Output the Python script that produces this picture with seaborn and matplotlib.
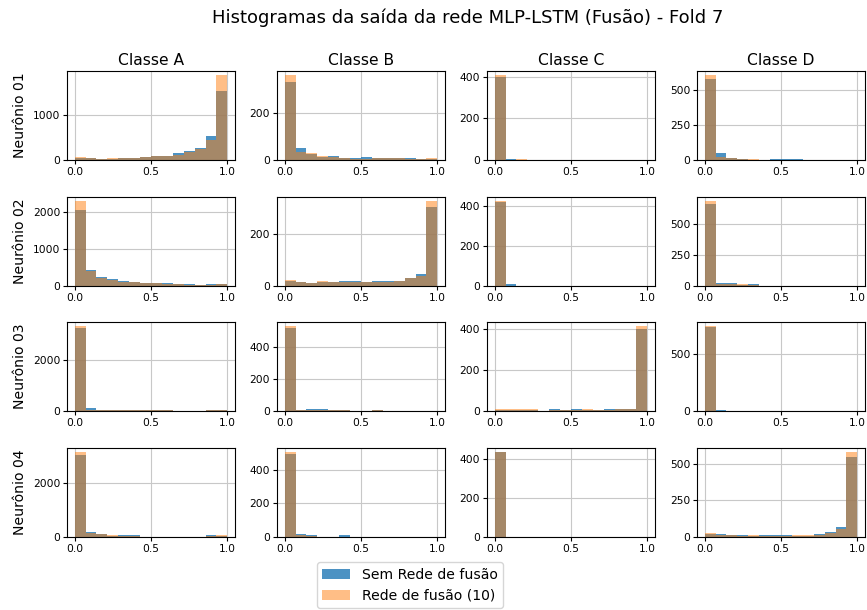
import numpy as np
import pandas as pd
import matplotlib
matplotlib.use("Agg")
import matplotlib.pyplot as plt
from matplotlib.patches import Patch
from matplotlib.ticker import MultipleLocator
import seaborn as sns

# Histogram bins shared by every panel (14 bins on [0, 1])
n_bins = 14
bin_range = (0.0, 1.0)

classes = ["Classe A", "Classe B", "Classe C", "Classe D"]
neurons = ["Neurônio 01", "Neurônio 02", "Neurônio 03", "Neurônio 04"]
series_labels = ["Sem Rede de fusão", "Rede de fusão (10)"]

# Counts per bin, one list per class (A, B, C, D), for each neuron
sem_fusao_n01 = [
    [45, 40, 25, 30, 50, 50, 70, 100, 100, 165, 195, 265, 530, 1540],
    [333, 51, 24, 14, 17, 10, 9, 13, 7, 7, 7, 7, 4, 6],
    [400, 6, 0, 0, 0, 0, 0, 0, 0, 0, 0, 0, 0, 0],
    [582, 53, 17, 5, 1, 0, 5, 5, 5, 0, 0, 0, 0, 0],
]
com_fusao_n01 = [
    [70, 35, 30, 35, 45, 55, 60, 85, 95, 120, 175, 240, 455, 1895],
    [360, 33, 31, 17, 11, 9, 6, 6, 7, 10, 9, 6, 6, 10],
    [408, 2, 3, 0, 0, 0, 0, 0, 0, 0, 0, 0, 0, 0],
    [608, 20, 18, 10, 5, 0, 0, 0, 0, 0, 0, 0, 0, 0],
]
sem_fusao_n02 = [
    [2063, 413, 233, 180, 135, 108, 81, 72, 60, 35, 30, 28, 30, 35],
    [17, 14, 10, 13, 14, 18, 18, 15, 18, 18, 19, 28, 44, 303],
    [422, 6, 0, 0, 0, 0, 0, 0, 0, 0, 0, 0, 0, 0],
    [664, 24, 19, 8, 11, 0, 0, 0, 0, 0, 0, 0, 0, 0],
]
com_fusao_n02 = [
    [2305, 385, 197, 152, 108, 90, 72, 63, 45, 30, 28, 25, 28, 30],
    [22, 12, 9, 17, 14, 14, 13, 12, 15, 15, 18, 28, 38, 327],
    [427, 0, 0, 0, 0, 0, 0, 0, 0, 0, 0, 0, 0, 0],
    [688, 16, 11, 11, 5, 0, 0, 0, 0, 0, 0, 0, 0, 0],
]
sem_fusao_n03 = [
    [3256, 110, 45, 40, 55, 45, 35, 50, 30, 20, 5, 5, 45, 40],
    [523, 10, 12, 12, 6, 6, 0, 0, 6, 0, 0, 0, 0, 0],
    [5, 5, 5, 5, 0, 8, 7, 8, 4, 6, 11, 12, 12, 400],
    [733, 14, 0, 0, 0, 0, 0, 0, 0, 0, 0, 0, 0, 0],
]
com_fusao_n03 = [
    [3333, 60, 55, 45, 40, 45, 50, 35, 45, 15, 5, 5, 55, 50],
    [533, 10, 8, 8, 10, 10, 0, 0, 10, 0, 0, 0, 0, 0],
    [8, 8, 8, 8, 0, 5, 6, 4, 8, 7, 6, 8, 8, 411],
    [739, 3, 0, 0, 0, 0, 0, 0, 0, 0, 0, 0, 0, 0],
]
sem_fusao_n04 = [
    [3006, 158, 109, 36, 60, 60, 0, 0, 0, 0, 0, 0, 60, 36],
    [497, 16, 10, 0, 0, 10, 0, 0, 0, 0, 0, 0, 0, 0],
    [437, 0, 0, 0, 0, 0, 0, 0, 0, 0, 0, 0, 0, 0],
    [16, 18, 9, 9, 7, 9, 9, 9, 7, 7, 18, 29, 66, 548],
]
com_fusao_n04 = [
    [3140, 121, 85, 60, 36, 36, 0, 0, 0, 0, 0, 0, 36, 60],
    [511, 10, 4, 0, 0, 0, 0, 0, 0, 0, 0, 0, 0, 0],
    [436, 0, 0, 0, 0, 0, 0, 0, 0, 0, 0, 0, 0, 0],
    [23, 14, 9, 7, 9, 7, 7, 7, 9, 9, 14, 23, 52, 584],
]

sem_fusao = [sem_fusao_n01, sem_fusao_n02, sem_fusao_n03, sem_fusao_n04]
com_fusao = [com_fusao_n01, com_fusao_n02, com_fusao_n03, com_fusao_n04]

# y tick spacing for each panel (rows = neurons, columns = classes)
ytick_step = [
    [1000, 200, 200, 250],
    [1000, 200, 200, 250],
    [2000, 200, 200, 500],
    [2000, 200, 200, 250],
]

blue = "#1f77b4"
orange = "#ff7f0e"
alpha_sem, alpha_com = 0.8, 0.5

sns.set_theme(style="ticks")
plt.rcParams.update({
    "font.family": ["DejaVu Sans"],
    "text.color": "black",
    "axes.labelcolor": "black",
    "axes.edgecolor": "black",
    "axes.linewidth": 0.8,
    "grid.color": "#c8c8c8",
    "grid.linewidth": 0.8,
    "xtick.labelsize": 7.7,
    "ytick.labelsize": 7.7,
    "xtick.major.size": 3,
    "ytick.major.size": 3,
    "xtick.major.width": 0.8,
    "ytick.major.width": 0.8,
    "xtick.color": "black",
    "ytick.color": "black",
})

fig, axes = plt.subplots(4, 4, figsize=(8.67, 6.10), dpi=100)
fig.subplots_adjust(left=0.0773, right=0.9977, top=0.8836, bottom=0.1202,
                    wspace=0.25, hspace=0.41)

bin_width = (bin_range[1] - bin_range[0]) / n_bins
centers = bin_range[0] + bin_width * (np.arange(n_bins) + 0.5)

for i, neuron in enumerate(neurons):
    for j, classe in enumerate(classes):
        ax = axes[i, j]
        df = pd.DataFrame({
            "saida": centers,
            "sem": np.asarray(sem_fusao[i][j], dtype=float),
            "com": np.asarray(com_fusao[i][j], dtype=float),
        })
        sns.histplot(data=df, x="saida", weights="sem", bins=n_bins,
                     binrange=bin_range, color=blue, alpha=alpha_sem,
                     linewidth=0, ax=ax)
        sns.histplot(data=df, x="saida", weights="com", bins=n_bins,
                     binrange=bin_range, color=orange, alpha=alpha_com,
                     linewidth=0, ax=ax)
        ax.set_xlabel("")
        ax.set_ylabel("")
        ax.grid(True)
        ax.set_axisbelow(True)
        ax.xaxis.set_major_locator(MultipleLocator(0.5))
        ax.yaxis.set_major_locator(MultipleLocator(ytick_step[i][j]))
        ax.tick_params(pad=2)
        for s in ax.spines.values():
            s.set_visible(True)
            s.set_color("black")
            s.set_linewidth(0.8)
        if i == 0:
            ax.set_title(classe, fontsize=11.2, pad=4)
        if j == 0:
            ax.set_ylabel(neuron, fontsize=10.1, labelpad=4)

fig.suptitle("Histogramas da saída da rede MLP-LSTM (Fusão) - Fold 7",
             fontsize=13, x=0.54, y=0.986)

handles = [
    Patch(facecolor=blue, alpha=alpha_sem, edgecolor="none"),
    Patch(facecolor=orange, alpha=alpha_com, edgecolor="none"),
]
fig.legend(handles, series_labels, loc="upper center",
           bbox_to_anchor=(410 / 867, 1 - 555 / 610), fontsize=10.1,
           frameon=True, framealpha=0.8, edgecolor="#cccccc", fancybox=True)

fig.savefig("out.png", dpi=100)
